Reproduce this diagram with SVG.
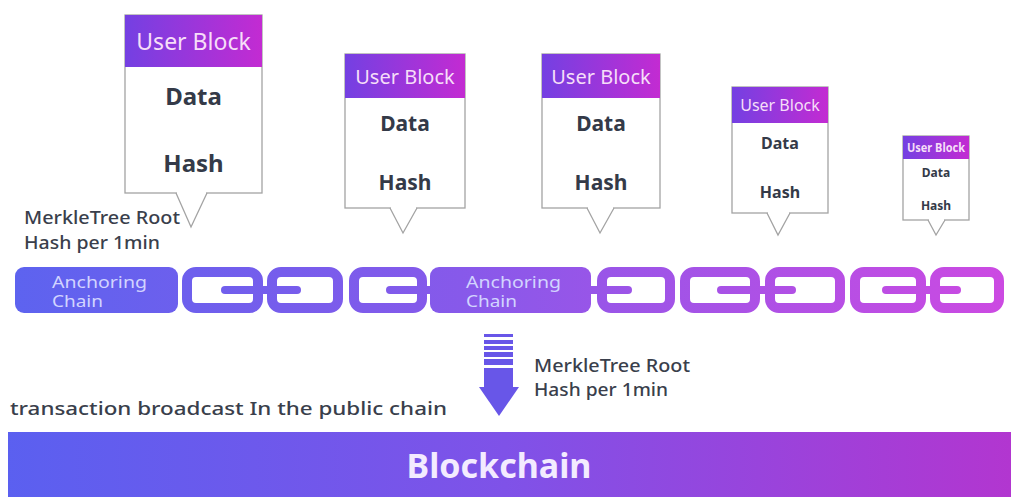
<svg xmlns="http://www.w3.org/2000/svg" width="1011" height="497" viewBox="0 0 1011 497">
<defs>
<linearGradient id="hdr" x1="0" y1="0" x2="1" y2="0">
<stop offset="0" stop-color="#7440e2"/>
<stop offset="1" stop-color="#c32bd2"/>
</linearGradient>
<linearGradient id="chainG" gradientUnits="userSpaceOnUse" x1="15" y1="0" x2="1005" y2="0">
<stop offset="0" stop-color="#5d63ef"/>
<stop offset="0.45" stop-color="#8759ea"/>
<stop offset="1" stop-color="#cc4ae2"/>
</linearGradient>
<linearGradient id="bcG" gradientUnits="userSpaceOnUse" x1="0" y1="0" x2="1011" y2="0">
<stop offset="0" stop-color="#5a60f0"/>
<stop offset="0.5" stop-color="#7f52e8"/>
<stop offset="1" stop-color="#b236d0"/>
</linearGradient>
<style>
text{font-family:"Noto Sans","Open Sans","DejaVu Sans",sans-serif}
.box{fill:#fff;stroke:#a3a3a3;stroke-width:1.3}
.ptr{fill:#fff;stroke:#a3a3a3;stroke-width:1.3;stroke-linejoin:miter}
.hd{fill:url(#hdr)}
.ht{fill:#f6def8;text-anchor:middle}
.bt{fill:#343a48;font-weight:bold;text-anchor:middle}
.lbl{fill:#3a3f4c;font-size:18px;font-weight:500}
.anc{fill:url(#chainG)}
.at{fill:#d2d4ff;font-size:17px}
.lnk{fill:none;stroke:url(#chainG);stroke-width:10}
.bar{fill:url(#chainG)}
</style>
</defs>
<rect width="1011" height="497" fill="#ffffff"/>

<g id="block1">
<path class="ptr" d="M176 193 L191 227 L207 193"/>
<rect class="box" x="125" y="15" width="137" height="178"/>
<line x1="177" y1="193" x2="206" y2="193" stroke="#fff" stroke-width="2"/>
<rect class="hd" x="125" y="15" width="137" height="52"/>
<text class="ht" x="193.5" y="50" font-size="23">User Block</text>
<text class="bt" x="193.5" y="105" font-size="24">Data</text>
<text class="bt" x="193.5" y="172" font-size="24">Hash</text>
</g>

<g id="block2">
<path class="ptr" d="M390 208 L403 233 L417 208"/>
<rect class="box" x="345" y="54" width="120" height="154"/>
<line x1="391" y1="208" x2="416" y2="208" stroke="#fff" stroke-width="2"/>
<rect class="hd" x="345" y="54" width="120" height="44"/>
<text class="ht" x="405" y="84" font-size="20">User Block</text>
<text class="bt" x="405" y="131" font-size="21">Data</text>
<text class="bt" x="405" y="190" font-size="21">Hash</text>
</g>

<g id="block3">
<path class="ptr" d="M587 208 L600 233 L614 208"/>
<rect class="box" x="542" y="54" width="118" height="154"/>
<line x1="588" y1="208" x2="613" y2="208" stroke="#fff" stroke-width="2"/>
<rect class="hd" x="542" y="54" width="118" height="44"/>
<text class="ht" x="601" y="84" font-size="20">User Block</text>
<text class="bt" x="601" y="131" font-size="21">Data</text>
<text class="bt" x="601" y="190" font-size="21">Hash</text>
</g>

<g id="block4">
<path class="ptr" d="M767 213 L778 235 L790 213"/>
<rect class="box" x="732" y="87" width="96" height="126"/>
<line x1="768" y1="213" x2="789" y2="213" stroke="#fff" stroke-width="2"/>
<rect class="hd" x="732" y="87" width="96" height="36"/>
<text class="ht" x="780" y="111" font-size="16">User Block</text>
<text class="bt" x="780" y="149" font-size="16">Data</text>
<text class="bt" x="780" y="198" font-size="16">Hash</text>
</g>

<g id="block5">
<path class="ptr" d="M928 220 L936 235 L945 220"/>
<rect class="box" x="903" y="136" width="66" height="84"/>
<line x1="929" y1="220" x2="944" y2="220" stroke="#fff" stroke-width="2"/>
<rect class="hd" x="903" y="136" width="66" height="23"/>
<text class="ht" x="936" y="152" font-size="11.5" font-weight="bold" textLength="58" lengthAdjust="spacingAndGlyphs">User Block</text>
<text class="bt" x="936" y="177" font-size="12">Data</text>
<text class="bt" x="936" y="210" font-size="12">Hash</text>
</g>

<g id="merkle-left">
<text class="lbl" x="24" y="224" textLength="156" lengthAdjust="spacingAndGlyphs">MerkleTree Root</text>
<text class="lbl" x="24" y="249" textLength="136" lengthAdjust="spacingAndGlyphs">Hash per 1min</text>
</g>

<g id="anchor1">
<rect class="anc" x="15" y="267" width="163" height="46" rx="9"/>
<text class="at" x="52" y="288" textLength="95" lengthAdjust="spacingAndGlyphs">Anchoring</text>
<text class="at" x="52" y="307" textLength="51" lengthAdjust="spacingAndGlyphs">Chain</text>
</g>

<g id="anchor2">
<rect class="anc" x="430" y="267" width="161" height="46" rx="9"/>
<text class="at" x="466" y="288" textLength="95" lengthAdjust="spacingAndGlyphs">Anchoring</text>
<text class="at" x="466" y="307" textLength="51" lengthAdjust="spacingAndGlyphs">Chain</text>
</g>

<g id="chain-links">
<rect class="lnk" x="187" y="272" width="71" height="36" rx="9"/>
<rect class="lnk" x="272" y="272" width="66" height="36" rx="9"/>
<rect class="lnk" x="354" y="272" width="68" height="36" rx="9"/>
<rect class="lnk" x="602" y="272" width="68" height="36" rx="9"/>
<rect class="lnk" x="685" y="272" width="70" height="36" rx="9"/>
<rect class="lnk" x="770" y="272" width="70" height="36" rx="9"/>
<rect class="lnk" x="855" y="272" width="66" height="36" rx="9"/>
<rect class="lnk" x="935" y="272" width="64" height="36" rx="9"/>
<rect class="bar" x="221" y="286" width="80" height="8" rx="4"/>
<rect class="bar" x="386" y="286" width="50" height="8" rx="4"/>
<rect class="bar" x="585" y="286" width="47" height="8" rx="4"/>
<rect class="bar" x="717" y="286" width="79" height="8" rx="4"/>
<rect class="bar" x="882" y="286" width="79" height="8" rx="4"/>
</g>

<g id="connectors">
<g fill="#6856e8">
<rect x="484" y="334" width="29" height="3"/>
<rect x="484" y="340" width="29" height="4"/>
<rect x="484" y="346" width="29" height="4"/>
<rect x="484" y="352" width="29" height="5"/>
<rect x="484" y="359" width="29" height="6"/>
<rect x="484" y="368" width="29" height="20"/>
<path d="M479 387 L519 387 L499 416 Z"/>
</g>
</g>

<g id="merkle-right">
<text class="lbl" x="534" y="372" textLength="156" lengthAdjust="spacingAndGlyphs">MerkleTree Root</text>
<text class="lbl" x="534" y="396" textLength="134" lengthAdjust="spacingAndGlyphs">Hash per 1min</text>
</g>

<g id="tx-label">
<text class="lbl" x="10" y="415" font-size="20" textLength="437" lengthAdjust="spacingAndGlyphs">transaction broadcast In the public chain</text>
</g>

<g id="blockchain">
<rect x="8" y="432" width="1003" height="65" fill="url(#bcG)"/>
<text x="499" y="478" font-size="34" font-weight="bold" fill="#f3ebff" text-anchor="middle">Blockchain</text>
</g>
</svg>
